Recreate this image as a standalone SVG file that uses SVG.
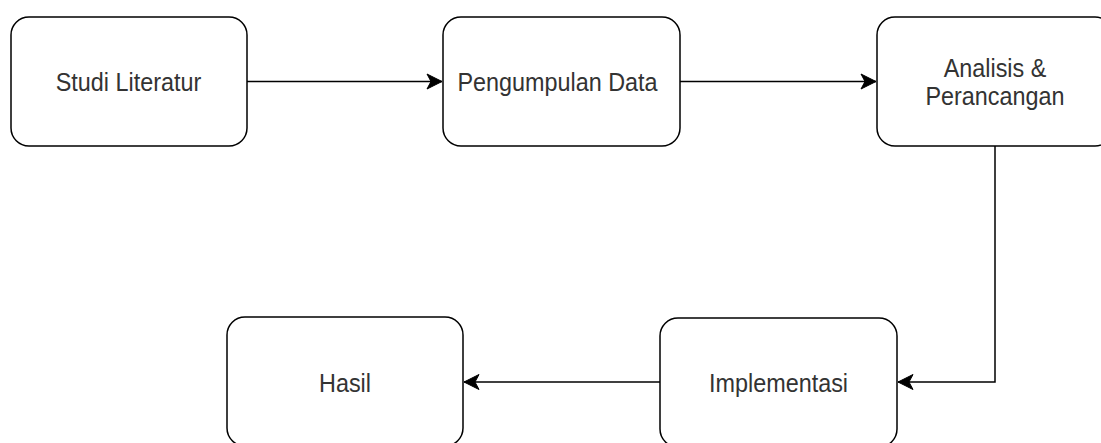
<svg xmlns="http://www.w3.org/2000/svg" width="1101" height="443" viewBox="0 0 1101 443">
<style>
.node{fill:#fff;stroke:#000;stroke-width:1.5}
.lbl{font-family:"Liberation Sans",Arial,sans-serif;font-size:23.4px;fill:#333;text-anchor:middle}
.edge{fill:none;stroke:#000;stroke-width:1.5}
</style>
<defs>
<marker id="arr" markerUnits="userSpaceOnUse" markerWidth="18" markerHeight="18" viewBox="0 0 18 18" refX="16" refY="9" orient="auto">
<path d="M1,1.5 L16,9 L1,16.5 L5,9 Z" fill="#000" stroke="#000" stroke-width="1"/>
</marker>
</defs>
<rect width="1101" height="443" fill="#fff"/>
<g id="connectors">
<path class="edge" d="M247,81.5 H442" marker-end="url(#arr)"/>
<path class="edge" d="M680,81.5 H876" marker-end="url(#arr)"/>
<path class="edge" d="M995,146 V382 H898" marker-end="url(#arr)"/>
<path class="edge" d="M660,382 H464" marker-end="url(#arr)"/>
</g>
<g id="studi">
<rect class="node" x="11" y="17" width="236" height="129" rx="18"/>
<text class="lbl" transform="translate(128.5,90.5) scale(1,1.12)">Studi Literatur</text>
</g>
<g id="pengumpulan">
<rect class="node" x="443" y="17" width="237" height="129" rx="18"/>
<text class="lbl" transform="translate(557.5,90.5) scale(1,1.12)">Pengumpulan Data</text>
</g>
<g id="analisis">
<rect class="node" x="877" y="17" width="236" height="129" rx="18"/>
<text class="lbl" transform="translate(995,77) scale(1,1.12)">Analisis &amp;</text>
<text class="lbl" transform="translate(995,105) scale(1,1.12)">Perancangan</text>
</g>
<g id="implementasi">
<rect class="node" x="660" y="318" width="237" height="129" rx="18"/>
<text class="lbl" transform="translate(778.5,391.5) scale(1,1.12)">Implementasi</text>
</g>
<g id="hasil">
<rect class="node" x="227" y="317" width="236" height="129" rx="18"/>
<text class="lbl" transform="translate(345,391.5) scale(1,1.12)">Hasil</text>
</g>
</svg>
